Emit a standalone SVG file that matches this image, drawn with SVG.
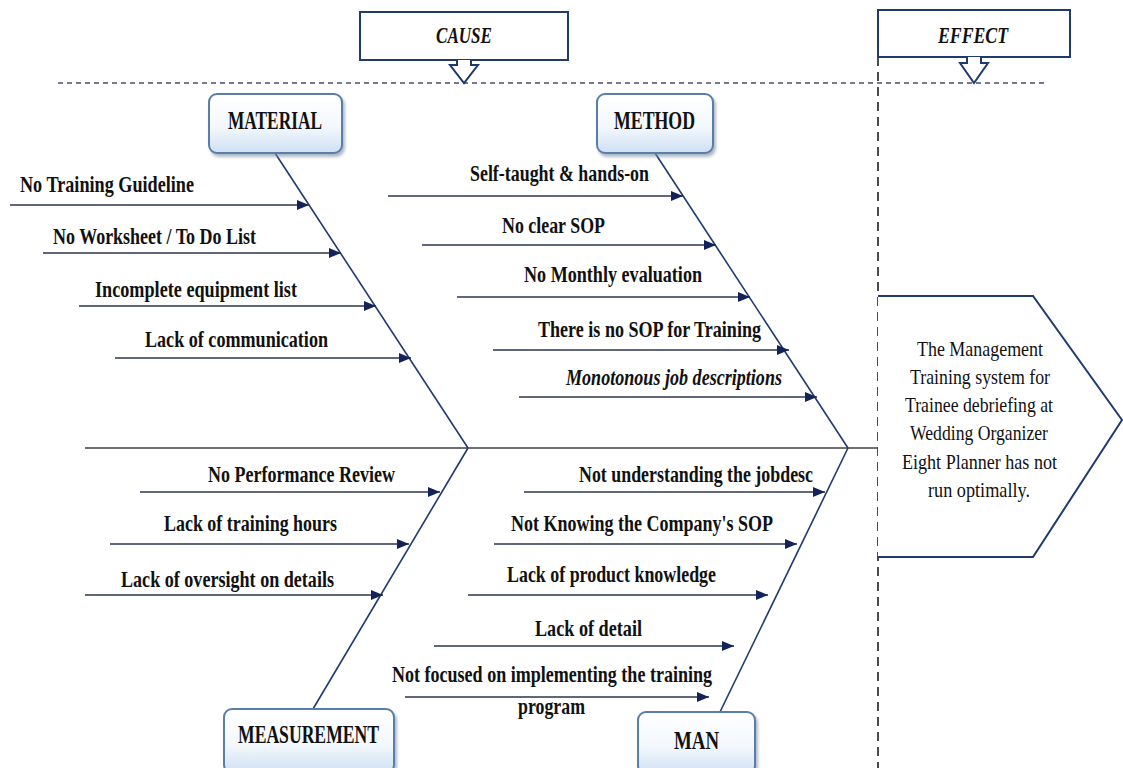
<svg xmlns="http://www.w3.org/2000/svg" width="1123" height="768" viewBox="0 0 1123 768">
<defs>
<linearGradient id="boxg" x1="0" y1="0" x2="0" y2="1">
<stop offset="0" stop-color="#ffffff"/>
<stop offset="0.55" stop-color="#f3f8fd"/>
<stop offset="1" stop-color="#cfe0f3"/>
</linearGradient>
<filter id="sh" x="-10%" y="-10%" width="130%" height="140%">
<feDropShadow dx="2" dy="3" stdDeviation="1.5" flood-color="#7a8aa0" flood-opacity="0.6"/>
</filter>
<marker id="ah" viewBox="0 0 12 10" refX="12" refY="5" markerWidth="13" markerHeight="10" markerUnits="userSpaceOnUse" orient="auto">
<path d="M0,0 L12,5 L0,10 Z" fill="#13235a"/>
</marker>
<style>
.t{font-family:"Liberation Serif","Times New Roman",serif;font-weight:bold;font-size:23px;fill:#111}
.c{font-size:25px}
.ti{font-style:italic;font-size:23px}
.e{font-family:"Liberation Serif","Times New Roman",serif;font-size:22px;fill:#111}
.cat{fill:url(#boxg);stroke:#5a7ea8;stroke-width:2;filter:url(#sh)}
.hb{fill:#fff;stroke:#1f3a6e;stroke-width:2}
.arr{stroke:#2b3350;stroke-width:1.6;fill:none;marker-end:url(#ah)}
.bone{stroke:#1f3a6e;stroke-width:1.6;fill:none}
</style>
</defs>
<rect width="1123" height="768" fill="#fff"/>

<g id="guides">
<line x1="58" y1="83" x2="1045" y2="83" stroke="#4a4d70" stroke-width="1.5" stroke-dasharray="5 4"/>
<line x1="878" y1="57" x2="878" y2="768" stroke="#111" stroke-width="1.5" stroke-dasharray="9 6"/>
</g>

<g id="cause">
<rect class="hb" x="360" y="12" width="208" height="48"/>
<path class="hb" d="M457,60 L457,65 L450,65 L464,83 L478,65 L471,65 L471,60"/>
<text class="t ti" x="436" y="43" textLength="56" lengthAdjust="spacingAndGlyphs">CAUSE</text>
</g>

<g id="effect">
<rect class="hb" x="878" y="10" width="192" height="47"/>
<path class="hb" d="M967,57 L967,63 L960,63 L974,83 L988,63 L981,63 L981,57"/>
<text class="t ti" x="938" y="43" textLength="70" lengthAdjust="spacingAndGlyphs">EFFECT</text>
</g>

<g id="connectors">
<line x1="85" y1="448" x2="878" y2="448" stroke="#404040" stroke-width="1.6"/>
<line class="bone" x1="275" y1="153" x2="468" y2="448"/>
<line class="bone" x1="655" y1="153" x2="848" y2="448"/>
<line class="bone" x1="468" y1="448" x2="313" y2="709"/>
<line class="bone" x1="848" y1="448" x2="720" y2="712"/>

<line class="arr" x1="10" y1="205" x2="309" y2="205"/>
<line class="arr" x1="43" y1="253" x2="341" y2="253"/>
<line class="arr" x1="79" y1="306" x2="376" y2="306"/>
<line class="arr" x1="115" y1="358" x2="411" y2="358"/>

<line class="arr" x1="388" y1="196" x2="683" y2="196"/>
<line class="arr" x1="422" y1="245" x2="716" y2="245"/>
<line class="arr" x1="457" y1="297" x2="750" y2="297"/>
<line class="arr" x1="493" y1="350" x2="789" y2="350"/>
<line class="arr" x1="519" y1="397" x2="817" y2="397"/>

<line class="arr" x1="140" y1="492" x2="440" y2="492"/>
<line class="arr" x1="110" y1="544" x2="409" y2="544"/>
<line class="arr" x1="85" y1="595" x2="383" y2="595"/>

<line class="arr" x1="524" y1="492" x2="825" y2="492"/>
<line class="arr" x1="494" y1="544" x2="797" y2="544"/>
<line class="arr" x1="468" y1="595" x2="768" y2="595"/>
<line class="arr" x1="434" y1="646" x2="734" y2="646"/>
<line class="arr" x1="405" y1="697" x2="709" y2="697"/>
</g>

<g id="material">
<rect class="cat" x="209" y="94" width="133" height="59" rx="8"/>
<text class="t c" x="228" y="129" textLength="94" lengthAdjust="spacingAndGlyphs">MATERIAL</text>
</g>
<g id="method">
<rect class="cat" x="597" y="94" width="116" height="59" rx="8"/>
<text class="t c" x="614" y="129" textLength="81" lengthAdjust="spacingAndGlyphs">METHOD</text>
</g>
<g id="measurement">
<rect class="cat" x="224" y="709" width="170" height="64" rx="8"/>
<text class="t c" x="238" y="743" textLength="141" lengthAdjust="spacingAndGlyphs">MEASUREMENT</text>
</g>
<g id="man">
<rect class="cat" x="638" y="712" width="117" height="62" rx="8"/>
<text class="t c" x="674" y="749" textLength="45" lengthAdjust="spacingAndGlyphs">MAN</text>
</g>

<g id="material-causes">
<text class="t" x="20" y="192" textLength="174" lengthAdjust="spacingAndGlyphs">No Training Guideline</text>
<text class="t" x="53" y="244" textLength="203" lengthAdjust="spacingAndGlyphs">No Worksheet / To Do List</text>
<text class="t" x="95" y="297" textLength="202" lengthAdjust="spacingAndGlyphs">Incomplete equipment list</text>
<text class="t" x="145" y="347" textLength="183" lengthAdjust="spacingAndGlyphs">Lack of communication</text>
</g>

<g id="method-causes">
<text class="t" x="470" y="181" textLength="179" lengthAdjust="spacingAndGlyphs">Self-taught &amp; hands-on</text>
<text class="t" x="502" y="233" textLength="103" lengthAdjust="spacingAndGlyphs">No clear SOP</text>
<text class="t" x="524" y="282" textLength="178" lengthAdjust="spacingAndGlyphs">No Monthly evaluation</text>
<text class="t" x="538" y="337" textLength="223" lengthAdjust="spacingAndGlyphs">There is no SOP for Training</text>
<text class="t ti" x="566" y="385" textLength="216" lengthAdjust="spacingAndGlyphs">Monotonous job descriptions</text>
</g>

<g id="measurement-causes">
<text class="t" x="208" y="482" textLength="187" lengthAdjust="spacingAndGlyphs">No Performance Review</text>
<text class="t" x="164" y="531" textLength="173" lengthAdjust="spacingAndGlyphs">Lack of training hours</text>
<text class="t" x="121" y="587" textLength="213" lengthAdjust="spacingAndGlyphs">Lack of oversight on details</text>
</g>

<g id="man-causes">
<text class="t" x="579" y="482" textLength="234" lengthAdjust="spacingAndGlyphs">Not understanding the jobdesc</text>
<text class="t" x="511" y="531" textLength="262" lengthAdjust="spacingAndGlyphs">Not Knowing the Company's SOP</text>
<text class="t" x="507" y="582" textLength="209" lengthAdjust="spacingAndGlyphs">Lack of product knowledge</text>
<text class="t" x="535" y="636" textLength="107" lengthAdjust="spacingAndGlyphs">Lack of detail</text>
<text class="t" x="392" y="682" textLength="320" lengthAdjust="spacingAndGlyphs">Not focused on implementing the training</text>
<text class="t" x="518" y="714" textLength="67" lengthAdjust="spacingAndGlyphs">program</text>
</g>

<g id="effect-box">
<path d="M878,296 L1033,296 L1122,420 L1033,557 L878,557" fill="#fff" stroke="#1f3a6e" stroke-width="2"/>
<text class="e" x="917" y="356" textLength="126" lengthAdjust="spacingAndGlyphs">The Management</text>
<text class="e" x="910" y="384" textLength="140" lengthAdjust="spacingAndGlyphs">Training system for</text>
<text class="e" x="905" y="412" textLength="148" lengthAdjust="spacingAndGlyphs">Trainee debriefing at</text>
<text class="e" x="910" y="440" textLength="138" lengthAdjust="spacingAndGlyphs">Wedding Organizer</text>
<text class="e" x="902" y="469" textLength="155" lengthAdjust="spacingAndGlyphs">Eight Planner has not</text>
<text class="e" x="928" y="497" textLength="102" lengthAdjust="spacingAndGlyphs">run optimally.</text>
</g>
</svg>
